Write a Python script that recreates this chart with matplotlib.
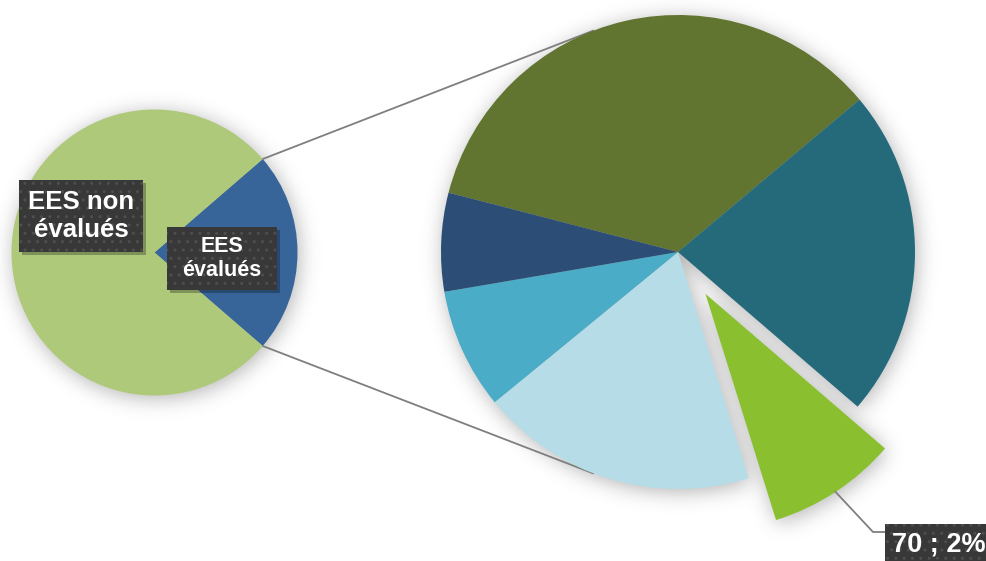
import numpy as np
import matplotlib
matplotlib.use("Agg")
import matplotlib.pyplot as plt
from matplotlib.patches import Rectangle

# ---------------- data ----------------
main_labels = ["EES évalués", "EES non évalués"]
main_values = [789, 2690]
main_colors = ["#37659A", "#AFC97B"]

sub_labels = ["A", "B", "C", "D", "E", "F"]
sub_values = [275, 177, 70, 149, 65, 53]
sub_colors = ["#617430", "#256A7A", "#8AC02F", "#B6DDE7", "#4AACC6", "#2C4E76"]
highlight_index = 2
highlight_text = "70 ; 2%"

# ---------------- layout ----------------
W, H = 987, 561
fig = plt.figure(figsize=(W / 100, H / 100), dpi=100)
ax = fig.add_axes([0, 0, 1, 1])

cL = (154.5, H - 252.5)
rL = 143
cR = (678.0, H - 252.0)
rR = 237
expl_dist = 50

main_total = sum(main_values)
blue_half = 360 * main_values[0] / main_total / 2.0
start_L = blue_half
sub_total = sum(sub_values)
start_R = 165.5

cum = np.cumsum([0] + [v / sub_total * 360 for v in sub_values])
h_t1 = start_R - cum[highlight_index]
h_t2 = start_R - cum[highlight_index + 1]
h_mid = np.radians((h_t1 + h_t2) / 2)
ex_c = (cR[0] + expl_dist * np.cos(h_mid), cR[1] + expl_dist * np.sin(h_mid))

# ---------------- soft shadow ----------------
yy, xx = np.mgrid[0:H, 0:W]
X = xx + 0.5
Y = H - (yy + 0.5)
mask = np.zeros((H, W))
mask[(X - cL[0]) ** 2 + (Y - cL[1]) ** 2 <= rL ** 2] = 1
dR = np.hypot(X - cR[0], Y - cR[1])
angR = np.degrees(np.arctan2(Y - cR[1], X - cR[0]))
def in_range(a, lo, hi):
    a = (a - lo) % 360
    return a <= (hi - lo) % 360
in_h = in_range(angR, h_t2, h_t1)
mask[(dR <= rR) & ~in_h] = 1
dE = np.hypot(X - ex_c[0], Y - ex_c[1])
angE = np.degrees(np.arctan2(Y - ex_c[1], X - ex_c[0]))
mask[(dE <= rR) & in_range(angE, h_t2, h_t1)] = 1
mask = np.roll(np.roll(mask, 3, axis=0), 2, axis=1)
sig = 10
k = np.arange(-3 * sig, 3 * sig + 1)
kern = np.exp(-k ** 2 / (2 * sig ** 2))
kern /= kern.sum()
blur = np.apply_along_axis(lambda r: np.convolve(r, kern, mode="same"), 1, mask)
blur = np.apply_along_axis(lambda c: np.convolve(c, kern, mode="same"), 0, blur)
img = np.zeros((H, W, 4))
img[..., :3] = 0.35
img[..., 3] = np.clip(blur * 0.45, 0, 1)
ax.imshow(img, extent=(0, W, 0, H), origin="upper", zorder=0, interpolation="bilinear")

# ---------------- connector lines ----------------
a1 = np.radians(blue_half)
p_top_L = (cL[0] + rL * np.cos(a1), cL[1] + rL * np.sin(a1))
p_bot_L = (cL[0] + rL * np.cos(-a1), cL[1] + rL * np.sin(-a1))
a2 = np.radians(111)
p_top_R = (cR[0] + rR * np.cos(a2), cR[1] + rR * np.sin(a2))
p_bot_R = (cR[0] + rR * np.cos(-a2), cR[1] + rR * np.sin(-a2))
ax.plot([p_top_L[0], p_top_R[0]], [p_top_L[1], p_top_R[1]], color="#7f7f7f", lw=1.3, zorder=1)
ax.plot([p_bot_L[0], p_bot_R[0]], [p_bot_L[1], p_bot_R[1]], color="#7f7f7f", lw=1.3, zorder=1)

# ---------------- pies ----------------
wl, _ = ax.pie(main_values, colors=main_colors, startangle=start_L, counterclock=False,
               center=cL, radius=rL, frame=True, wedgeprops=dict(linewidth=0))
explode = [expl_dist if i == highlight_index else 0 for i in range(len(sub_values))]
wr, _ = ax.pie(sub_values, colors=sub_colors, startangle=start_R, counterclock=False,
               center=cR, radius=rR, explode=explode, frame=True, wedgeprops=dict(linewidth=0))
for w in list(wl) + list(wr):
    w.set_zorder(2)

# ---------------- labels ----------------
def label(x0, y0, x1, y1, s, size, tx=None, ty=None):
    # box given in pixel coords (top-left origin)
    bx, by, bw, bh = x0, H - y1, x1 - x0, y1 - y0
    ax.add_patch(Rectangle((bx + 3, by - 3), bw, bh, facecolor="black", alpha=0.28,
                           linewidth=0, zorder=5))
    ax.add_patch(Rectangle((bx, by), bw, bh, facecolor="#383838", edgecolor="#4e4e4e",
                           hatch="..", linewidth=0, zorder=6))
    if tx is None:
        tx = (x0 + x1) / 2
    if ty is None:
        ty = (y0 + y1) / 2
    ax.text(tx, H - ty, s, ha="center", va="center", color="white", fontsize=size,
            fontweight="bold", family="Liberation Sans", linespacing=1.2, zorder=7)

label(19, 180, 143, 252, "EES non\névalués", 18.5)
label(167, 227, 277, 290, "EES\névalués", 15.5)

p0 = (ex_c[0] + rR * np.cos(h_mid), ex_c[1] + rR * np.sin(h_mid))
ax.plot([p0[0], 873, 886], [p0[1], H - 532, H - 532], color="#7f7f7f", lw=1.3, zorder=5)
label(885, 524, 995, 570, highlight_text, 19.5, tx=939, ty=545)

ax.set_xlim(0, W)
ax.set_ylim(0, H)
ax.set_aspect("equal")
ax.axis("off")
fig.savefig("out.png", dpi=100)
